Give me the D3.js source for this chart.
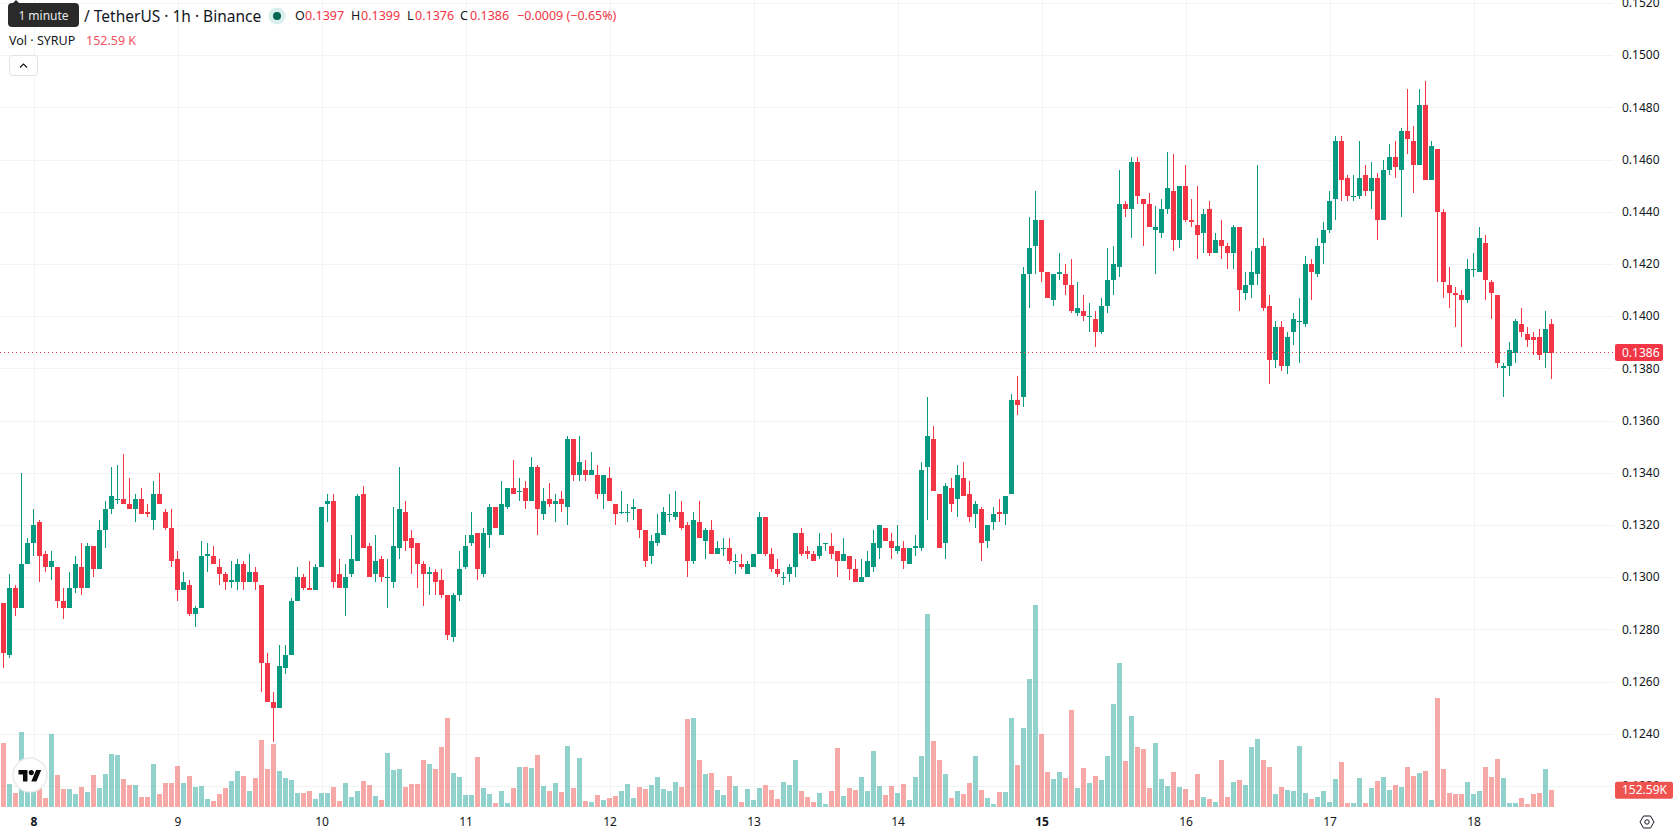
<!DOCTYPE html>
<html>
<head>
<meta charset="utf-8">
<title>SYRUP / TetherUS 1h</title>
<script src="https://cdn.jsdelivr.net/npm/d3@7"></script>
<style>
  html, body { margin: 0; padding: 0; background: #fff; overflow: hidden; }
  svg { display: block; font-family: "Noto Sans", sans-serif; }
</style>
</head>
<body>
<svg id="chart" width="1678" height="835"></svg>
<script>
// Prices are kept in ten-thousandths of a dollar; volumes in thousands of SYRUP.
const PRICE_UNIT = 1e-4;

const opens = [
  1290,1270,1296,1288,1305,1313,1321,1309,1304,1304,
  1291,1288,1296,1304,1296,1312,1303,1318,1326,1330,
  1330,1328,1326,1330,1325,1322,1332,1325,1319,1307,
  1295,1297,1286,1288,1308,1308,1304,1301,1298,1298,
  1305,1298,1302,1297,1267,1252,1250,1265,1270,1291,
  1300,1296,1295,1304,1328,1329,1301,1296,1301,1306,
  1332,1312,1301,1307,1300,1298,1311,1325,1315,1313,
  1305,1301,1302,1299,1293,1277,1293,1304,1313,1317,
  1301,1316,1327,1316,1327,1334,1333,1334,1329,1342,
  1324,1330,1328,1330,1327,1353,1339,1341,1339,1339,
  1332,1338,1328,1325,1325,1326,1326,1318,1308,1313,
  1316,1324,1323,1325,1320,1306,1321,1314,1318,1309,
  1311,1311,1306,1305,1301,1304,1309,1323,1309,1303,
  1300,1301,1304,1317,1310,1309,1308,1313,1312,1310,
  1306,1308,1303,1298,1300,1304,1311,1319,1314,1310,
  1311,1305,1311,1311,1342,1353,1332,1313,1334,1330,
  1338,1332,1324,1326,1314,1321,1325,1324,1332,1368,
  1369,1416,1427,1437,1417,1406,1416,1416,1412,1401,
  1402,1400,1399,1394,1404,1414,1419,1443,1441,1459,
  1445,1443,1433,1432,1441,1448,1429,1450,1437,1435,
  1432,1441,1424,1429,1427,1424,1434,1409,1412,1416,
  1427,1404,1383,1396,1381,1394,1398,1397,1420,1416,
  1428,1433,1445,1467,1453,1446,1446,1454,1448,1453,
  1437,1456,1461,1456,1471,1467,1458,1481,1452,1464,
  1440,1412,1409,1408,1406,1418,1417,1428,1413,1408,
  1380,1381,1386,1397,1393,1392,1392,1386,1397
];

const highs = [
  1290,1301,1297,1340,1315,1326,1322,1310,1310,1304,
  1296,1302,1308,1313,1313,1312,1322,1329,1342,1343,
  1347,1338,1332,1334,1328,1337,1340,1326,1326,1310,
  1302,1299,1289,1314,1313,1312,1307,1302,1306,1307,
  1306,1309,1304,1297,1271,1256,1274,1274,1292,1304,
  1301,1306,1305,1327,1332,1332,1307,1305,1316,1332,
  1335,1313,1316,1308,1307,1327,1342,1329,1318,1313,
  1306,1304,1303,1303,1293,1294,1310,1316,1325,1317,
  1319,1328,1327,1337,1334,1345,1338,1337,1346,1343,
  1334,1336,1332,1333,1354,1353,1354,1345,1348,1343,
  1339,1342,1328,1333,1328,1330,1326,1318,1316,1324,
  1327,1332,1333,1329,1321,1325,1329,1319,1322,1314,
  1315,1315,1309,1309,1306,1309,1325,1323,1311,1307,
  1302,1305,1317,1319,1312,1310,1317,1313,1317,1310,
  1315,1308,1307,1307,1310,1318,1320,1319,1317,1320,
  1314,1311,1316,1344,1369,1358,1332,1336,1338,1343,
  1344,1337,1329,1327,1320,1327,1330,1331,1370,1377,
  1419,1438,1448,1437,1417,1416,1424,1420,1422,1413,
  1408,1405,1402,1407,1426,1427,1456,1444,1461,1461,
  1445,1447,1442,1445,1463,1462,1450,1458,1445,1450,
  1441,1444,1432,1437,1428,1435,1434,1417,1425,1458,
  1430,1408,1398,1398,1394,1401,1407,1423,1422,1430,
  1436,1448,1469,1469,1454,1454,1467,1458,1459,1455,
  1460,1466,1467,1472,1487,1473,1487,1490,1467,1464,
  1441,1419,1411,1410,1422,1424,1434,1431,1414,1408,
  1382,1390,1399,1403,1396,1394,1395,1402,1399
];

const lows = [
  1265,1269,1285,1288,1305,1308,1298,1302,1299,1288,
  1284,1288,1294,1293,1296,1300,1303,1311,1324,1328,
  1328,1326,1321,1324,1323,1318,1328,1318,1304,1291,
  1295,1285,1281,1288,1302,1305,1297,1295,1296,1295,
  1295,1298,1295,1256,1252,1237,1250,1263,1270,1291,
  1295,1295,1295,1304,1321,1296,1296,1285,1300,1306,
  1311,1300,1298,1298,1288,1296,1307,1310,1301,1296,
  1289,1293,1293,1292,1276,1275,1291,1303,1312,1299,
  1300,1311,1319,1316,1326,1332,1329,1326,1329,1316,
  1322,1327,1321,1325,1320,1337,1337,1337,1339,1330,
  1326,1329,1320,1324,1321,1322,1315,1304,1305,1312,
  1316,1321,1322,1318,1300,1305,1315,1307,1309,1309,
  1308,1305,1301,1303,1301,1304,1309,1308,1302,1300,
  1297,1298,1300,1308,1307,1306,1307,1310,1307,1300,
  1306,1299,1298,1298,1300,1302,1307,1314,1307,1309,
  1303,1305,1308,1310,1322,1333,1311,1307,1325,1323,
  1331,1321,1319,1306,1311,1318,1321,1320,1332,1362,
  1365,1403,1416,1413,1407,1404,1414,1408,1401,1400,
  1398,1394,1388,1393,1401,1408,1415,1438,1430,1443,
  1427,1434,1416,1430,1439,1425,1426,1436,1434,1422,
  1424,1423,1424,1422,1418,1418,1402,1406,1407,1412,
  1402,1374,1380,1379,1378,1389,1382,1396,1406,1415,
  1420,1432,1437,1444,1444,1444,1445,1446,1441,1429,
  1437,1454,1453,1438,1462,1447,1458,1452,1452,1413,
  1407,1403,1396,1388,1405,1415,1417,1406,1399,1380,
  1369,1377,1382,1392,1388,1385,1383,1380,1376
];

const closes = [
  1271,1296,1288,1305,1313,1320,1308,1304,1306,1291,
  1288,1296,1305,1296,1312,1303,1318,1326,1331,1330,
  1328,1326,1330,1324,1324,1332,1328,1319,1306,1295,
  1298,1286,1288,1308,1309,1305,1301,1298,1299,1305,
  1298,1302,1298,1267,1252,1250,1266,1270,1291,1300,
  1296,1295,1304,1327,1329,1298,1296,1300,1307,1331,
  1311,1300,1306,1300,1300,1312,1326,1314,1311,1305,
  1301,1302,1298,1293,1278,1293,1303,1312,1316,1303,
  1317,1327,1319,1328,1334,1332,1333,1329,1342,1326,
  1329,1328,1329,1328,1353,1339,1344,1339,1341,1332,
  1339,1329,1324,1325,1325,1327,1318,1306,1314,1317,
  1325,1324,1325,1319,1306,1322,1315,1318,1309,1311,
  1311,1306,1306,1304,1305,1309,1323,1309,1303,1301,
  1300,1304,1317,1309,1309,1306,1312,1313,1309,1306,
  1309,1303,1298,1300,1306,1313,1320,1314,1311,1312,
  1306,1311,1312,1341,1354,1333,1311,1335,1328,1339,
  1331,1323,1328,1313,1320,1324,1324,1331,1368,1366,
  1416,1426,1437,1417,1407,1416,1417,1412,1402,1403,
  1400,1400,1394,1404,1414,1420,1443,1441,1459,1446,
  1443,1434,1434,1441,1449,1429,1450,1437,1436,1431,
  1439,1424,1429,1427,1424,1434,1410,1412,1417,1426,
  1403,1383,1396,1381,1392,1399,1398,1420,1417,1427,
  1433,1444,1467,1452,1446,1446,1453,1448,1453,1437,
  1456,1461,1457,1471,1468,1458,1481,1452,1465,1440,
  1413,1409,1408,1406,1418,1418,1430,1414,1409,1382,
  1381,1387,1398,1394,1391,1391,1385,1395,1386
];

const volumes = [
  586,210,128,686,137,156,183,82,668,293,
  165,165,119,183,137,293,174,302,485,476,
  256,201,201,92,92,393,119,220,220,375,
  220,284,183,192,73,55,119,174,238,329,
  284,146,265,613,348,576,329,265,247,128,
  128,146,73,128,128,183,55,220,92,146,
  238,201,101,64,494,339,348,183,210,210,
  430,393,348,549,814,311,275,110,110,458,
  174,119,37,146,37,174,366,366,357,476,
  192,146,217,134,555,171,445,52,43,107,
  61,79,98,143,207,79,180,162,198,271,
  162,143,226,180,802,811,427,299,308,153,
  107,281,189,43,162,61,171,198,153,70,
  226,198,427,143,88,43,125,24,143,537,
  98,171,153,271,143,509,189,107,189,125,
  207,61,271,464,1763,601,427,299,79,143,
  116,217,464,153,79,24,134,134,811,381,
  720,1168,1845,665,317,253,317,262,885,171,
  354,217,281,244,464,939,1315,418,830,546,
  528,171,583,253,189,317,180,162,61,299,
  88,70,43,427,88,226,244,198,546,619,
  427,363,116,180,153,143,555,125,70,88,
  143,43,253,409,34,34,262,34,171,235,
  271,153,198,180,363,281,308,326,61,994,
  345,125,116,116,226,116,143,363,271,436,
  262,34,34,79,24,116,125,345,152.59
];

// Candle index at which each calendar day starts, with its axis label.
const dayLabels = [8, 9, 10, 11, 12, 13, 14, 15, 16, 17, 18];
const dayStarts = [5, 29, 53, 77, 101, 125, 149, 173, 197, 221, 245];
const boldDays = [8, 15];

const priceTicks = [0.152, 0.150, 0.148, 0.146, 0.144, 0.142, 0.140, 0.138, 0.136, 0.134,
                    0.132, 0.130, 0.128, 0.126, 0.124, 0.122];

const lastClose = 0.1386;
const lastVolume = 152.59;

const legendValues = [
  { key: "O", keyX: 295, text: "0.1397", textX: 305 },
  { key: "H", keyX: 351, text: "0.1399", textX: 361 },
  { key: "L", keyX: 407, text: "0.1376", textX: 415 },
  { key: "C", keyX: 460, text: "0.1386", textX: 470 }
];

const UP = "#089981", DOWN = "#F23645";
const VOL_UP = "#26a69a", VOL_DOWN = "#ef5350";
const GRID = "#f2f3f3", INK = "#131722";
const PANE_RIGHT = 1614;

const candles = opens.map((o, i) => ({
  i, o: o * PRICE_UNIT, h: highs[i] * PRICE_UNIT, l: lows[i] * PRICE_UNIT,
  c: closes[i] * PRICE_UNIT, v: volumes[i], up: closes[i] >= o
}));

const x = d3.scaleLinear().domain([0, opens.length - 1]).range([3.5, 1551.5]);
const y = d3.scaleLinear().domain([0.138, 0.148]).range([368.3, 107.3]);
const yVol = d3.scaleLinear().domain([0, lastVolume]).range([807, 790.3]);

const svg = d3.select("#chart");

// Grid
const priceGrid = svg.append("g")
  .attr("transform", `translate(${PANE_RIGHT},0)`)
  .call(d3.axisLeft(y).tickValues(priceTicks).tickSize(PANE_RIGHT).tickFormat(""));
priceGrid.select(".domain").remove();
priceGrid.selectAll("line").attr("stroke", GRID).attr("shape-rendering", "crispEdges");

const dayGrid = svg.append("g")
  .attr("transform", "translate(0,807)")
  .call(d3.axisTop(x).tickValues(dayStarts).tickSize(807).tickFormat(""));
dayGrid.select(".domain").remove();
dayGrid.selectAll("line").attr("stroke", GRID).attr("shape-rendering", "crispEdges");

// Volume histogram
svg.append("g").attr("shape-rendering", "crispEdges")
  .selectAll("rect").data(candles).join("rect")
  .attr("x", d => x(d.i) - 2.5)
  .attr("width", 5)
  .attr("y", d => yVol(d.v))
  .attr("height", d => yVol(0) - yVol(d.v))
  .attr("fill", d => d.up ? VOL_UP : VOL_DOWN)
  .attr("fill-opacity", 0.5);

// Candlesticks: wick first, then the body on top
const candle = svg.append("g").attr("shape-rendering", "crispEdges")
  .selectAll("g").data(candles).join("g")
  .attr("fill", d => d.up ? UP : DOWN);
candle.append("rect")
  .attr("x", d => x(d.i) - 0.5)
  .attr("width", 1)
  .attr("y", d => y(d.h))
  .attr("height", d => Math.max(1, y(d.l) - y(d.h)));
candle.append("rect")
  .attr("x", d => x(d.i) - 2.5)
  .attr("width", 5)
  .attr("y", d => y(Math.max(d.o, d.c)))
  .attr("height", d => Math.max(1, Math.abs(y(d.o) - y(d.c))));

// Last price line
const lastY = Math.floor(y(lastClose)) + 0.5;
svg.append("line")
  .attr("x1", 0).attr("x2", PANE_RIGHT)
  .attr("y1", lastY).attr("y2", lastY)
  .attr("stroke", DOWN)
  .attr("stroke-dasharray", "1 3");

// Price axis
const priceAxis = svg.append("g")
  .attr("transform", "translate(1622,0)")
  .call(d3.axisRight(y).tickValues(priceTicks).tickSize(0).tickPadding(0)
    .tickFormat(d3.format(".4f")));
priceAxis.select(".domain").remove();
priceAxis.selectAll("text").attr("fill", INK).attr("font-size", 12).attr("font-family", "'Noto Sans', sans-serif");

function priceTag(cy, width, text, fill) {
  svg.append("rect").attr("x", 1615).attr("y", cy - 8.5)
    .attr("width", width).attr("height", 17).attr("rx", 2).attr("fill", fill);
  svg.append("text").attr("x", 1622).attr("y", cy).attr("dy", "0.34em")
    .attr("fill", "#fff").attr("font-size", 12).text(text);
}
priceTag(lastY, 48, d3.format(".4f")(lastClose), DOWN);
priceTag(yVol(lastVolume), 58, lastVolume + "K", VOL_DOWN);

// Time axis
const timeAxis = svg.append("g")
  .attr("transform", "translate(0,817)")
  .call(d3.axisBottom(x).tickValues(dayStarts).tickSize(0).tickPadding(0)
    .tickFormat((d, i) => dayLabels[i]));
timeAxis.select(".domain").remove();
timeAxis.selectAll("text")
  .attr("fill", INK).attr("font-size", 12).attr("font-family", "'Noto Sans', sans-serif")
  .attr("font-weight", (d, i) => boldDays.includes(dayLabels[i]) ? 700 : 400);

// Settings icon in the corner between the axes
const settings = svg.append("g").attr("transform", "translate(1647,822)")
  .attr("fill", "none").attr("stroke", INK).attr("stroke-width", 1);
settings.append("path").attr("d", "M-7,0 L-3.5,-6 L3.5,-6 L7,0 L3.5,6 L-3.5,6 Z");
settings.append("circle").attr("r", 2.2);

// Attribution badge
const badge = svg.append("g").attr("transform", "translate(30,775)");
badge.append("circle").attr("r", 17).attr("fill", "#fff").attr("stroke", "#e9eaeb").attr("stroke-width", 1.5);
const glyph = badge.append("g").attr("transform", "translate(-11.5,-7.5) scale(0.64)").attr("fill", "#0c0c0c");
glyph.append("path").attr("d", "M14 22H7V11H0V4h14v18zM28 22h-8l7.5-18h8L28 22z");
glyph.append("circle").attr("cx", 20).attr("cy", 8).attr("r", 4);

// Legend: symbol row
svg.append("text").attr("x", 84).attr("y", 16.5).attr("dy", "0.35em")
  .attr("fill", INK).attr("font-size", 15.5).text("/ TetherUS · 1h · Binance");

svg.append("circle").attr("cx", 277).attr("cy", 16).attr("r", 8.5).attr("fill", "#d9efeb");
svg.append("circle").attr("cx", 277).attr("cy", 16).attr("r", 4).attr("fill", "#056656");

legendValues.forEach(d => {
  svg.append("text").attr("x", d.keyX).attr("y", 16).attr("dy", "0.35em")
    .attr("fill", INK).attr("font-size", 12.5).text(d.key);
  svg.append("text").attr("x", d.textX).attr("y", 16).attr("dy", "0.35em")
    .attr("fill", DOWN).attr("font-size", 12.5).text(d.text);
});
svg.append("text").attr("x", 517).attr("y", 16).attr("dy", "0.35em")
  .attr("fill", DOWN).attr("font-size", 12.5).text("−0.0009 (−0.65%)");

// Legend: volume row
svg.append("text").attr("x", 9).attr("y", 40.5).attr("dy", "0.35em")
  .attr("fill", INK).attr("font-size", 12.5).text("Vol · SYRUP");
svg.append("text").attr("x", 86).attr("y", 40.5).attr("dy", "0.35em")
  .attr("fill", "#F7525F").attr("font-size", 12.5).text("152.59 K");

// Collapse button
svg.append("rect").attr("x", 9.5).attr("y", 55.5).attr("width", 28).attr("height", 20).attr("rx", 3)
  .attr("fill", "#fff").attr("stroke", "#e0e3eb");
svg.append("path").attr("d", "M20,67.5 L23.5,64 L27,67.5")
  .attr("fill", "none").attr("stroke", INK).attr("stroke-width", 1.2);

// Hover hint over the symbol name
svg.append("path").attr("d", "M12,4 L16,0 L20,4 Z").attr("fill", "#2a2a2a");
svg.append("rect").attr("x", 8).attr("y", 3).attr("width", 71).attr("height", 24).attr("rx", 4).attr("fill", "#2a2a2a");
svg.append("text").attr("x", 43.5).attr("y", 15.5).attr("dy", "0.35em").attr("text-anchor", "middle")
  .attr("fill", "#e8e8e8").attr("font-size", 12).text("1 minute");
</script>
</body>
</html>
